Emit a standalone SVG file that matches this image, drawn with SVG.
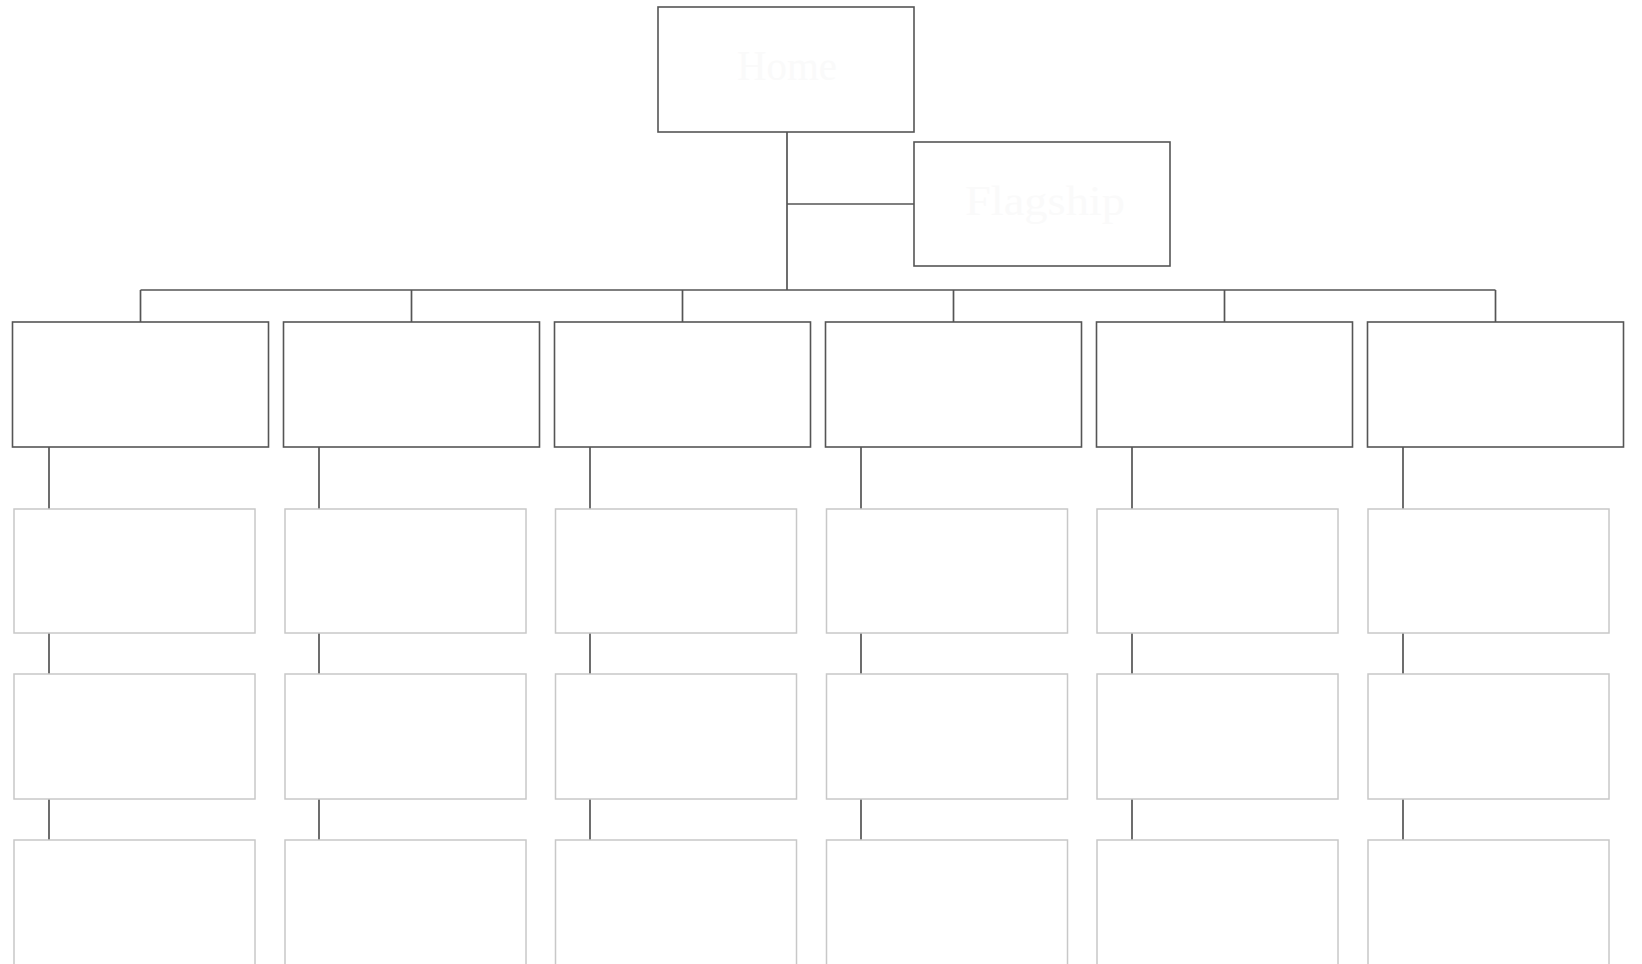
<svg xmlns="http://www.w3.org/2000/svg" width="1642" height="964" viewBox="0 0 1642 964">
<style>
.bg{fill:#ffffff}
.top{fill:#ffffff;stroke:#555555;stroke-width:1.6}
.sub{fill:#ffffff;stroke:#c8c8c8;stroke-width:1.5}
.lbl{font-family:"Liberation Serif",serif;font-size:42px;fill:#fafafa;text-anchor:middle}
.conn{stroke:#555555;stroke-width:1.7;fill:none}
</style>
<rect class="bg" x="0" y="0" width="1642" height="964"/>
<g id="connectors">
<path class="conn" d="M787 132V290M787 204H914M140.5 290H1495.5M140.5 290V322M411.5 290V322M682.5 290V322M953.5 290V322M1224.5 290V322M1495.5 290V322"/>
<path class="conn" d="M49 447V509M49 633V674M49 799V840"/>
<path class="conn" d="M319 447V509M319 633V674M319 799V840"/>
<path class="conn" d="M590 447V509M590 633V674M590 799V840"/>
<path class="conn" d="M861 447V509M861 633V674M861 799V840"/>
<path class="conn" d="M1132 447V509M1132 633V674M1132 799V840"/>
<path class="conn" d="M1403 447V509M1403 633V674M1403 799V840"/>
</g>
<g id="home"><rect class="top" x="658" y="7" width="256" height="125"/><text class="lbl" x="787" y="80" textLength="100" lengthAdjust="spacingAndGlyphs">Home</text></g>
<g id="utility"><rect class="top" x="914" y="142" width="256" height="124"/><text class="lbl" x="1045" y="215" textLength="160" lengthAdjust="spacingAndGlyphs">Flagship</text></g>
<g id="s1"><rect class="top" x="12.5" y="322" width="256" height="125"/></g>
<g id="s2"><rect class="top" x="283.5" y="322" width="256" height="125"/></g>
<g id="s3"><rect class="top" x="554.5" y="322" width="256" height="125"/></g>
<g id="s4"><rect class="top" x="825.5" y="322" width="256" height="125"/></g>
<g id="s5"><rect class="top" x="1096.5" y="322" width="256" height="125"/></g>
<g id="s6"><rect class="top" x="1367.5" y="322" width="256" height="125"/></g>
<g id="s1a"><rect class="sub" x="14" y="509" width="241" height="124"/></g>
<g id="s2a"><rect class="sub" x="285" y="509" width="241" height="124"/></g>
<g id="s3a"><rect class="sub" x="555.5" y="509" width="241" height="124"/></g>
<g id="s4a"><rect class="sub" x="826.5" y="509" width="241" height="124"/></g>
<g id="s5a"><rect class="sub" x="1097" y="509" width="241" height="124"/></g>
<g id="s6a"><rect class="sub" x="1368" y="509" width="241" height="124"/></g>
<g id="s1b"><rect class="sub" x="14" y="674" width="241" height="125"/></g>
<g id="s2b"><rect class="sub" x="285" y="674" width="241" height="125"/></g>
<g id="s3b"><rect class="sub" x="555.5" y="674" width="241" height="125"/></g>
<g id="s4b"><rect class="sub" x="826.5" y="674" width="241" height="125"/></g>
<g id="s5b"><rect class="sub" x="1097" y="674" width="241" height="125"/></g>
<g id="s6b"><rect class="sub" x="1368" y="674" width="241" height="125"/></g>
<g id="s1c"><rect class="sub" x="14" y="840" width="241" height="140"/></g>
<g id="s2c"><rect class="sub" x="285" y="840" width="241" height="140"/></g>
<g id="s3c"><rect class="sub" x="555.5" y="840" width="241" height="140"/></g>
<g id="s4c"><rect class="sub" x="826.5" y="840" width="241" height="140"/></g>
<g id="s5c"><rect class="sub" x="1097" y="840" width="241" height="140"/></g>
<g id="s6c"><rect class="sub" x="1368" y="840" width="241" height="140"/></g>
</svg>
